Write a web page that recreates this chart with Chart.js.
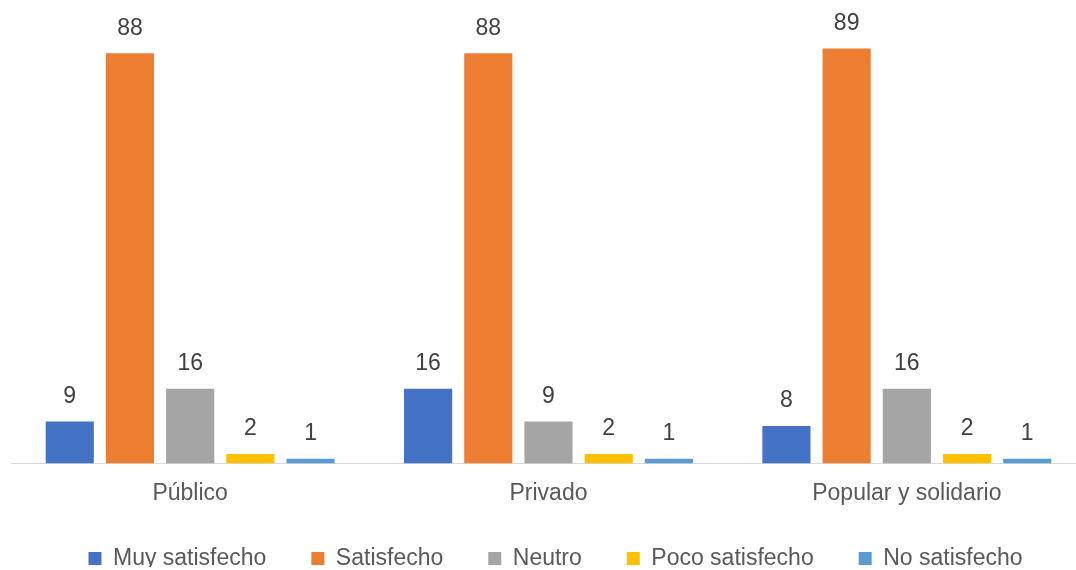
<!DOCTYPE html>
<html>
<head>
<meta charset="utf-8">
<script src="https://cdn.jsdelivr.net/npm/chart.js@4"></script>
<style>
  html, body { margin: 0; padding: 0; background: #fff; overflow: hidden; }
  #wrap { width: 1086px; height: 580px; }
</style>
</head>
<body>
<div id="wrap"><canvas id="chart"></canvas></div>
<script>
var categories = ["Público", "Privado", "Popular y solidario"];
var seriesNames = ["Muy satisfecho", "Satisfecho", "Neutro", "Poco satisfecho", "No satisfecho"];
var muySatisfecho = [9, 16, 8];
var satisfecho = [88, 88, 89];
var neutro = [16, 9, 16];
var pocoSatisfecho = [2, 2, 2];
var noSatisfecho = [1, 1, 1];
var colors = ['#4472C4', '#ED7D31', '#A5A5A5', '#FFC000', '#5B9BD5'];

var fontFamily = 'Arial, "Liberation Sans", sans-serif';

var values = [muySatisfecho, satisfecho, neutro, pocoSatisfecho, noSatisfecho];
var datasets = values.map(function (v, i) {
  return {
    label: seriesNames[i],
    data: v,
    backgroundColor: colors[i],
    barPercentage: 0.8,
    categoryPercentage: 0.84
  };
});

// value labels above bars
var barLabels = {
  id: 'barLabels',
  afterDatasetsDraw: function (chart) {
    var ctx = chart.ctx;
    ctx.save();
    ctx.font = '23px ' + fontFamily;
    ctx.fillStyle = '#404040';
    ctx.textAlign = 'center';
    ctx.textBaseline = 'middle';
    chart.data.datasets.forEach(function (ds, i) {
      chart.getDatasetMeta(i).data.forEach(function (bar, j) {
        ctx.fillText(ds.data[j], bar.x, bar.y - 25);
      });
    });
    ctx.restore();
  }
};

// legend uses wide horizontal padding; height is capped, so pull it back up
var legendShift = {
  id: 'legendShift',
  afterLayout: function (chart) {
    var lg = chart.legend;
    lg.left += 7;
    lg.right += 7;
    lg.top -= 13;
    lg.bottom -= 13;
  }
};

var ctx = document.getElementById('chart').getContext('2d');
var myChart = new Chart(ctx, {
  type: 'bar',
  data: { labels: categories, datasets: datasets },
  plugins: [barLabels, legendShift],
  options: {
    responsive: true,
    maintainAspectRatio: false,
    animation: false,
    layout: { padding: { top: 16, left: 11, right: 0, bottom: 0 } },
    scales: {
      x: {
        grid: { display: false },
        border: { display: true, color: '#D9D9D9', width: 1 },
        ticks: {
          color: '#595959',
          font: { size: 23, family: fontFamily },
          padding: 8
        }
      },
      y: {
        display: false,
        min: 0,
        max: 96
      }
    },
    plugins: {
      tooltip: { enabled: false },
      legend: {
        position: 'bottom',
        maxHeight: 65,
        labels: {
          boxWidth: 13,
          boxHeight: 13,
          padding: 45,
          color: '#595959',
          font: { size: 23, family: fontFamily }
        }
      }
    }
  }
});
</script>
</body>
</html>
